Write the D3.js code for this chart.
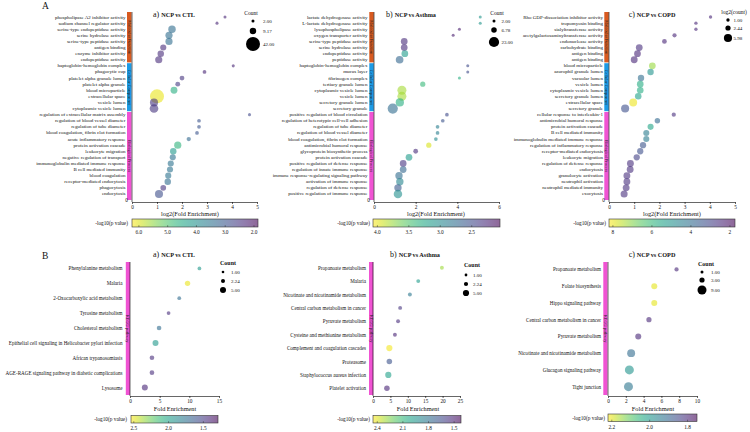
<!DOCTYPE html>
<html><head><meta charset="utf-8">
<script src="https://cdn.jsdelivr.net/npm/d3@7"></script>
<style>
body{margin:0;background:#fff;}
svg{display:block;font-family:"Liberation Serif","Times New Roman",serif;}
</style>
</head><body>
<svg id="chart" width="750" height="432"></svg>
<script>
// ---------------- DATA ----------------
const goCategories = ["Molecular Function","Cellular Component","Biological Process"];
const goCategorySizes = [8, 8, 14];
const keggCategories = ["KEGG pathway"];

// A a) NCP vs CTL
const ctlGoTerms = ["phospholipase A2 inhibitor activity","sodium channel regulator activity","serine-type endopeptidase activity","serine hydrolase activity","serine-type peptidase activity","antigen binding","enzyme inhibitor activity","endopeptidase activity","haptoglobin-hemoglobin complex","phagocytic cup","platelet alpha granule lumen","platelet alpha granule","blood microparticle","extracellular space","vesicle lumen","cytoplasmic vesicle lumen","regulation of extracellular matrix assembly","regulation of blood vessel diameter","regulation of tube diameter","blood coagulation, fibrin clot formation","acute inflammatory response","protein activation cascade","leukocyte migration","negative regulation of transport","immunoglobulin mediated immune response","B cell mediated immunity","blood coagulation","receptor-mediated endocytosis","phagocytosis","endocytosis"];
const ctlGoLog2FE = [3.72,3.4,1.6,1.48,1.48,1.25,1.15,1.07,4.05,2.9,2.0,1.83,1.68,1.0,0.88,0.88,4.7,2.68,2.68,2.6,2.27,1.83,1.65,1.63,1.55,1.52,1.45,1.43,1.25,1.08];
const ctlGoCount = [2,2,12,11,11,8,9,11,2,3,5,5,10,42,14,16,2,3,3,3,4,11,9,8,8,8,8,9,7,14];
const ctlGoLogP = [2.3,2.3,3.4,3.4,3.4,2.4,2.4,2.4,2.3,2.3,2.5,2.6,4.6,6.1,2.5,2.5,2.8,3.0,3.0,3.0,3.3,4.7,4.2,3.5,3.5,3.5,3.5,3.4,2.5,2.9];
const ctlGoXTicks = [0,1,2,3,4,5];
const ctlGoSizeLegend = [2.00, 9.17, 42.00];
const ctlGoPTicks = [6.0, 5.0, 4.0, 3.0, 2.0];

// A b) NCP vs Asthma
const asthmaGoTerms = ["lactate dehydrogenase activity","L-lactate dehydrogenase activity","lysophospholipase activity","oxygen transporter activity","serine-type peptidase activity","serine hydrolase activity","endopeptidase activity","peptidase activity","haptoglobin-hemoglobin complex","mucus layer","fibrinogen complex","tertiary granule lumen","cytoplasmic vesicle lumen","vesicle lumen","secretory granule lumen","secretory granule","positive regulation of blood circulation","regulation of heterotypic cell-cell adhesion","regulation of tube diameter","regulation of blood vessel diameter","blood coagulation, fibrin clot formation","antimicrobial humoral response","glycoprotein biosynthetic process","protein activation cascade","positive regulation of defense response","regulation of innate immune response","immune response-regulating signaling pathway","activation of immune response","regulation of defense response","positive regulation of immune response"];
const asthmaGoLog2FE = [5.1,5.1,4.1,3.8,1.45,1.45,1.48,1.23,4.5,4.5,4.1,2.34,1.34,1.34,1.24,0.9,3.5,3.3,3.05,3.05,2.97,2.63,2.0,1.68,1.4,1.4,1.2,1.24,1.15,1.15];
const asthmaGoCount = [2,2,2,2,10,10,10,13,2,2,2,6,18,18,15,23,3,3,3,3,3,6,5,10,10,10,12,12,12,16];
const asthmaGoLogP = [3.1,3.1,2.2,2.2,2.3,2.3,3.15,2.7,2.5,2.5,3.3,3.4,3.8,3.8,3.3,2.75,2.5,2.55,2.9,2.9,3.0,3.95,2.3,3.15,2.35,2.7,2.75,2.95,2.6,3.05];
const asthmaGoXTicks = [0,2,4,6];
const asthmaGoSizeLegend = [2.00, 6.78, 23.00];
const asthmaGoPTicks = [4.0, 3.5, 3.0, 2.5];

// A c) NCP vs COPD
const copdGoTerms = ["Rho GDP-dissociation inhibitor activity","tropomyosin binding","sialyltransferase activity","acetylgalactosaminyltransferase activity","endonuclease activity","carbohydrate binding","antigen binding","antigen binding","blood microparticle","azurophil granule lumen","vacuolar lumen","vesicle lumen","cytoplasmic vesicle lumen","secretory granule lumen","extracellular space","secretory granule","cellular response to interleukin-1","antimicrobial humoral response","protein activation cascade","B cell mediated immunity","immunoglobulin mediated immune response","regulation of inflammatory response","receptor-mediated endocytosis","leukocyte migration","regulation of defense response","endocytosis","granulocyte activation","neutrophil activation","neutrophil mediated immunity","exocytosis"];
const copdGoLog2FE = [4.03,3.45,3.45,2.6,2.2,1.2,1.13,1.0,1.72,1.65,1.27,1.24,1.24,1.16,0.96,0.64,2.57,1.92,1.65,1.48,1.48,1.35,1.24,1.1,0.85,0.84,0.71,0.71,0.68,0.6];
const copdGoLog2Count = [1.0,1.0,1.0,1.58,2.0,4.1,4.0,4.2,4.0,3.6,3.6,3.9,3.9,3.8,5.5,5.8,1.58,2.6,3.3,3.3,3.3,3.5,3.5,3.5,4.2,4.2,4.2,4.2,4.2,4.4];
const copdGoLogP = [2.4,2.4,2.4,2.4,2.4,2.6,2.4,2.4,7.2,5.0,4.0,5.7,5.7,5.4,8.0,3.3,2.6,3.9,5.5,4.4,4.4,3.4,3.3,3.0,2.6,2.6,2.6,2.6,2.6,2.6];
const copdGoXTicks = [0,1,2,3,4,5];
const copdGoSizeLegend = [1.00, 2.44, 5.98];
const copdGoPTicks = [8, 6, 4, 2];

// B a) NCP vs CTL
const ctlKeggTerms = ["Phenylalanine metabolism","Malaria","2-Oxocarboxylic acid metabolism","Tyrosine metabolism","Cholesterol metabolism","Epithelial cell signaling in Helicobacter pylori infection","African trypanosomiasis","AGE-RAGE signaling pathway in diabetic complications","Lysosome"];
const ctlKeggFE = [11.7,9.7,8.3,6.5,4.9,4.3,3.7,3.7,2.5];
const ctlKeggCount = [2,4,2,2,3,5,3,3,5];
const ctlKeggLogP = [1.95,2.5,1.72,1.45,1.72,1.95,1.45,1.45,1.42];
const ctlKeggXTicks = [0,5,10,15];
const ctlKeggSizeLegend = [1.00, 2.24, 5.00];
const ctlKeggPTicks = [2.5, 2.0, 1.5];

// B b) NCP vs Asthma
const asthmaKeggTerms = ["Propanoate metabolism","Malaria","Nicotinate and nicotinamide metabolism","Central carbon metabolism in cancer","Pyruvate metabolism","Cysteine and methionine metabolism","Complement and coagulation cascades","Proteasome","Staphylococcus aureus infection","Platelet activation"];
const asthmaKeggFE = [19.8,13.0,10.6,7.8,7.2,6.3,4.7,4.7,4.4,4.0];
const asthmaKeggCount = [2,2,2,2,2,2,5,4,5,4];
const asthmaKeggLogP = [2.3,1.98,1.83,1.57,1.55,1.52,2.43,1.68,2.0,1.52];
const asthmaKeggXTicks = [0,5,10,15,20,25];
const asthmaKeggSizeLegend = [1.00, 2.24, 5.00];
const asthmaKeggPTicks = [2.4, 2.1, 1.8, 1.5];

// B c) NCP vs COPD
const copdKeggTerms = ["Propanoate metabolism","Folate biosynthesis","Hippo signaling pathway","Central carbon metabolism in cancer","Pyruvate metabolism","Nicotinate and nicotinamide metabolism","Glucagon signaling pathway","Tight junction"];
const copdKeggFE = [7.7,5.2,5.2,4.6,3.4,2.6,2.4,2.3];
const copdKeggCount = [2,4,4,3,4,7,9,9];
const copdKeggLogP = [1.8,2.2,2.2,1.8,1.8,1.91,1.99,1.93];
const copdKeggXTicks = [0,2,4,6,8,10];
const copdKeggSizeLegend = [1.00, 3.00, 9.00];
const copdKeggPTicks = [2.2, 2.0, 1.8];

// ---------------- STYLE ----------------
const catColor = {"Molecular Function":"#d85a20","Cellular Component":"#1c9be6","Biological Process":"#f053d3","KEGG pathway":"#f053d3"};
const ALPHA = 0.6;

const svg = d3.select("#chart");
const defs = svg.append("defs");
let gradId = 0;

function drawPanel(p){
  const g = svg.append("g");
  const n = p.terms.length;
  const x = d3.scaleLinear().domain(p.xDomain).range([p.x0, p.x1]);
  const y = d3.scaleBand().domain(d3.range(n)).range([p.yTop, p.yBot]);
  const r = d3.scaleSqrt().domain([0, p.rDomainMax]).range([0, p.rMax]);
  const cHi = p.cDomain[0], cLo = p.cDomain[1];
  const col = v => d3.interpolateViridis(Math.max(0, Math.min(1, (v - cLo) / (cHi - cLo))));

  // category bars
  let s = 0;
  p.groups.forEach((name, gi) => {
    const size = p.groupSizes[gi];
    const y0 = gi === 0 ? p.barTop : y(s) + 0.4;
    const y1 = gi === p.groups.length - 1 ? p.barBottom : y(s + size) - 0.4;
    g.append("rect").attr("x", p.barX).attr("y", y0).attr("width", p.barW).attr("height", y1 - y0)
      .attr("fill", catColor[name]);
    g.append("text").attr("transform", `translate(${p.barX + p.barW/2},${(y0+y1)/2}) rotate(90)`)
      .attr("text-anchor","middle").attr("dominant-baseline","central")
      .attr("font-size", p.catFont).attr("fill","#222").text(name);
    s += size;
  });

  // term labels
  g.selectAll("text.term").data(p.terms).join("text").attr("class","term")
    .attr("x", p.labelX).attr("y", (d,i) => y(i) + y.bandwidth()/2)
    .attr("text-anchor","end").attr("dominant-baseline","central")
    .attr("font-size", p.labelFont).attr("fill","#111").text(d => d);

  // y axis line
  g.append("line").attr("x1", p.x0).attr("x2", p.x0).attr("y1", p.barTop).attr("y2", p.axisY)
    .attr("stroke","#000").attr("stroke-width",0.6);

  // x axis
  const ax = g.append("g").attr("transform", `translate(0,${p.axisY})`)
    .call(d3.axisBottom(x).tickValues(p.xTicks).tickFormat(d3.format("d")).tickSize(2).tickPadding(1).tickSizeOuter(0));
  ax.selectAll("path,line").attr("stroke","#000").attr("stroke-width",0.6);
  ax.selectAll("text").attr("font-size", p.tickFont).attr("font-family","Liberation Serif").attr("fill","#111");
  g.append("text").attr("x", p.xTitleX).attr("y", p.xTitleY).attr("text-anchor","middle")
    .attr("dominant-baseline","central").attr("font-size", p.xTitleFont).attr("fill","#111").text(p.xTitle);
  if (p.zeroLabel) {
    g.append("text").attr("x", p.x0 - 4).attr("y", p.axisY - 2).attr("text-anchor","end")
      .attr("dominant-baseline","central").attr("font-size", p.tickFont).attr("fill","#111").text("0");
  }

  // points
  g.selectAll("circle.pt").data(d3.range(n)).join("circle").attr("class","pt")
    .attr("cx", i => x(p.fe[i])).attr("cy", i => y(i) + y.bandwidth()/2)
    .attr("r", i => r(p.size[i])).attr("fill", i => col(p.logp[i])).attr("fill-opacity", ALPHA);

  // size legend
  g.append("text").attr("x", p.legTitleX).attr("y", p.legTitleY).attr("text-anchor","middle")
    .attr("dominant-baseline","central").attr("font-size", p.legTitleFont)
    .attr("font-weight", p.legTitleBold ? "bold" : "normal").attr("fill","#111").text(p.legTitle);
  p.sizeLegend.forEach((v, i) => {
    g.append("circle").attr("cx", p.legX).attr("cy", p.legYs[i]).attr("r", r(v)).attr("fill","#000");
    g.append("text").attr("x", p.legLabelX).attr("y", p.legYs[i]).attr("dominant-baseline","central")
      .attr("font-size", p.legFont).attr("fill","#111").text(d3.format(".2f")(v));
  });

  // colorbar
  const id = "grad" + (gradId++);
  const grad = defs.append("linearGradient").attr("id", id).attr("x1","0%").attr("x2","100%").attr("y1","0%").attr("y2","0%");
  d3.range(0, 1.0001, 0.05).forEach(t => {
    grad.append("stop").attr("offset", (t*100) + "%").attr("stop-color", col(cHi + t*(cLo - cHi))).attr("stop-opacity", ALPHA);
  });
  const cb = d3.scaleLinear().domain([cHi, cLo]).range([p.cbX0, p.cbX1]);
  g.append("rect").attr("x", p.cbX0).attr("y", p.cbY).attr("width", p.cbX1 - p.cbX0).attr("height", p.cbH)
    .attr("fill", `url(#${id})`).attr("stroke","#333").attr("stroke-width",0.6);
  p.pTicks.forEach(v => {
    g.append("line").attr("x1", cb(v)).attr("x2", cb(v)).attr("y1", p.cbY + p.cbH - 1.8).attr("y2", p.cbY + p.cbH)
      .attr("stroke","#333").attr("stroke-width",0.5);
    g.append("text").attr("x", cb(v)).attr("y", p.cbY + p.cbH + 5).attr("text-anchor","middle")
      .attr("dominant-baseline","central").attr("font-size", p.tickFont).attr("fill","#111").text(d3.format(p.pFormat)(v));
  });
  g.append("text").attr("x", p.cbLabelX).attr("y", p.cbY + p.cbH/2).attr("text-anchor","end")
    .attr("dominant-baseline","central").attr("font-size", p.legFont + 0.3).attr("fill","#111").text("-log10(p value)");

  // title
  const t = g.append("text").attr("x", p.titleX).attr("y", p.titleY).attr("text-anchor","middle").attr("fill","#111");
  t.append("tspan").attr("font-size", 8).text(p.titleLetter + " ");
  t.append("tspan").attr("font-size", 6.2).attr("font-weight","bold").text(p.titleText);
}

const topBase = {yTop:14, yBot:197, barTop:12, barBottom:200, axisY:202, barW:4.5, catFont:4.3, labelFont:5,
  tickFont:5.3, xTitle:"log2(Fold Enrichment)", xTitleY:213.5, xTitleFont:6.3, zeroLabel:true,
  legFont:5, legTitleFont:5.5, legTitleBold:false, cbY:219, cbH:8, titleY:16.5,
  groups:goCategories, groupSizes:goCategorySizes};
const botBase = {yTop:261, yBot:395, barTop:262, barBottom:395, axisY:396, barW:4.2, catFont:4.3, labelFont:5.1,
  tickFont:5.3, xTitle:"Fold Enrichment", xTitleY:408, xTitleFont:6.3, zeroLabel:false,
  legFont:5, legTitleFont:6, legTitleBold:true, cbY:415.5, cbH:7.5, titleY:256.5,
  groups:keggCategories};

const panels = [
  Object.assign({}, topBase, {terms:ctlGoTerms, fe:ctlGoLog2FE, size:ctlGoCount, logp:ctlGoLogP,
    xDomain:[0,5], x0:132, x1:257, xTicks:ctlGoXTicks, barX:127, labelX:125.5, xTitleX:190,
    rDomainMax:42, rMax:7, cDomain:[6.24,1.86], pTicks:ctlGoPTicks, pFormat:".1f",
    cbX0:132, cbX1:258, cbLabelX:128,
    legTitle:"Count", legTitleX:251, legTitleY:13, legX:253, legYs:[21,31,44], legLabelX:263, sizeLegend:ctlGoSizeLegend,
    titleX:174, titleLetter:"a)", titleText:"NCP vs CTL"}),
  Object.assign({}, topBase, {terms:asthmaGoTerms, fe:asthmaGoLog2FE, size:asthmaGoCount, logp:asthmaGoLogP,
    xDomain:[0,6], x0:374, x1:499, xTicks:asthmaGoXTicks, barX:369.3, labelX:367.5, xTitleX:436,
    rDomainMax:23, rMax:5.1, cDomain:[4.07,2.05], pTicks:asthmaGoPTicks, pFormat:".1f",
    cbX0:373, cbX1:500, cbLabelX:370,
    legTitle:"Count", legTitleX:497, legTitleY:13, legX:494, legYs:[21,30,42], legLabelX:501.5, sizeLegend:asthmaGoSizeLegend,
    titleX:411, titleLetter:"b)", titleText:"NCP vs Asthma"}),
  Object.assign({}, topBase, {terms:copdGoTerms, fe:copdGoLog2FE, size:copdGoLog2Count, logp:copdGoLogP,
    xDomain:[0,5], x0:609, x1:735, xTicks:copdGoXTicks, barX:604.3, labelX:603, xTitleX:672,
    rDomainMax:5.98, rMax:4.1, cDomain:[8.2,1.74], pTicks:copdGoPTicks, pFormat:"d",
    cbX0:609, cbX1:735, cbLabelX:606,
    legTitle:"log2(count)", legTitleX:734, legTitleY:12, legX:728, legYs:[20,28,38], legLabelX:733.5, sizeLegend:copdGoSizeLegend,
    titleX:652, titleLetter:"c)", titleText:"NCP vs COPD"}),
  Object.assign({}, botBase, {terms:ctlKeggTerms, fe:ctlKeggFE, size:ctlKeggCount, logp:ctlKeggLogP, groupSizes:[ctlKeggTerms.length],
    xDomain:[0,15], x0:130, x1:219, xTicks:ctlKeggXTicks, barX:125.8, labelX:122.5, xTitleX:175,
    rDomainMax:5, rMax:3, cDomain:[2.54,1.29], pTicks:ctlKeggPTicks, pFormat:".1f",
    cbX0:131, cbX1:218, cbLabelX:127,
    legTitle:"Count", legTitleX:228, legTitleY:262.5, legX:223, legYs:[272,281,290], legLabelX:231, sizeLegend:ctlKeggSizeLegend,
    titleX:174, titleLetter:"a)", titleText:"NCP vs CTL"}),
  Object.assign({}, botBase, {terms:asthmaKeggTerms, fe:asthmaKeggFE, size:asthmaKeggCount, logp:asthmaKeggLogP, groupSizes:[asthmaKeggTerms.length],
    xDomain:[0,25], x0:373, x1:460, xTicks:asthmaKeggXTicks, barX:369, labelX:366, xTitleX:418,
    rDomainMax:5, rMax:3.1, cDomain:[2.45,1.42], pTicks:asthmaKeggPTicks, pFormat:".1f",
    cbX0:373, cbX1:461, cbLabelX:370,
    legTitle:"Count", legTitleX:472, legTitleY:264.5, legX:466, legYs:[275,284,293], legLabelX:473, sizeLegend:asthmaKeggSizeLegend,
    titleX:415, titleLetter:"b)", titleText:"NCP vs Asthma"}),
  Object.assign({}, botBase, {terms:copdKeggTerms, fe:copdKeggFE, size:copdKeggCount, logp:copdKeggLogP, groupSizes:[copdKeggTerms.length],
    xDomain:[0,10], x0:608, x1:697, xTicks:copdKeggXTicks, barX:603.3, labelX:601, xTitleX:653,
    rDomainMax:9, rMax:4.5, cDomain:[2.22,1.75], pTicks:copdKeggPTicks, pFormat:".1f",
    cbX0:608, cbX1:697, cbLabelX:605,
    legTitle:"Count", legTitleX:706, legTitleY:263.5, legX:702, legYs:[272,280,290], legLabelX:711, sizeLegend:copdKeggSizeLegend,
    titleX:652, titleLetter:"c)", titleText:"NCP vs COPD", cbY:414})
];
panels.forEach(drawPanel);

// section letters
svg.append("text").attr("x",42).attr("y",8.5).attr("font-size",9.5).attr("fill","#111").text("A");
svg.append("text").attr("x",42).attr("y",258.5).attr("font-size",9.5).attr("fill","#111").text("B");
</script>
</body></html>
